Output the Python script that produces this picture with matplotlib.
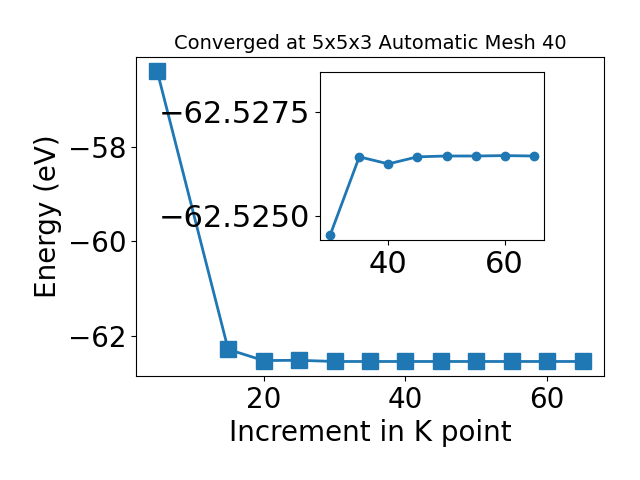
import numpy as np
import matplotlib
matplotlib.use("Agg")
import matplotlib.pyplot as plt

# k-point increments and total energies (eV)
kpoints = [5, 15, 20, 25, 30, 35, 40, 45, 50, 55, 60, 65]
energy = [-56.41, -62.29, -62.525, -62.52, -62.545, -62.545, -62.545,
          -62.545, -62.545, -62.545, -62.545, -62.545]

# zoomed region for the inset
kpoints_zoom = [30, 35, 40, 45, 50, 55, 60, 65]
energy_zoom = [-62.52454, -62.52642, -62.52625, -62.52642,
               -62.52644, -62.52644, -62.52645, -62.52644]

fig = plt.figure(figsize=(6.4, 4.8), dpi=100)
ax = fig.add_axes([0.2125, 0.2167, 0.7313, 0.6646])
ax.plot(kpoints, energy, marker='s', markersize=11, linewidth=2, color='#1f77b4')
ax.set_xlabel("Increment in K point", fontsize=20)
ax.set_ylabel("Energy (eV)", fontsize=20)
ax.set_title("Converged at 5x5x3 Automatic Mesh 40", fontsize=14)
ax.tick_params(labelsize=20)

ins = fig.add_axes([0.5, 0.5, 0.35, 0.35])
ins.plot(kpoints_zoom, energy_zoom, marker='o', markersize=6, linewidth=2, color='#1f77b4')
ins.set_ylim(-62.52442, -62.52846)
ins.set_yticks([-62.5275, -62.5250])
ins.ticklabel_format(axis='y', useOffset=False)
ins.tick_params(labelsize=22)

plt.savefig("out.png")
